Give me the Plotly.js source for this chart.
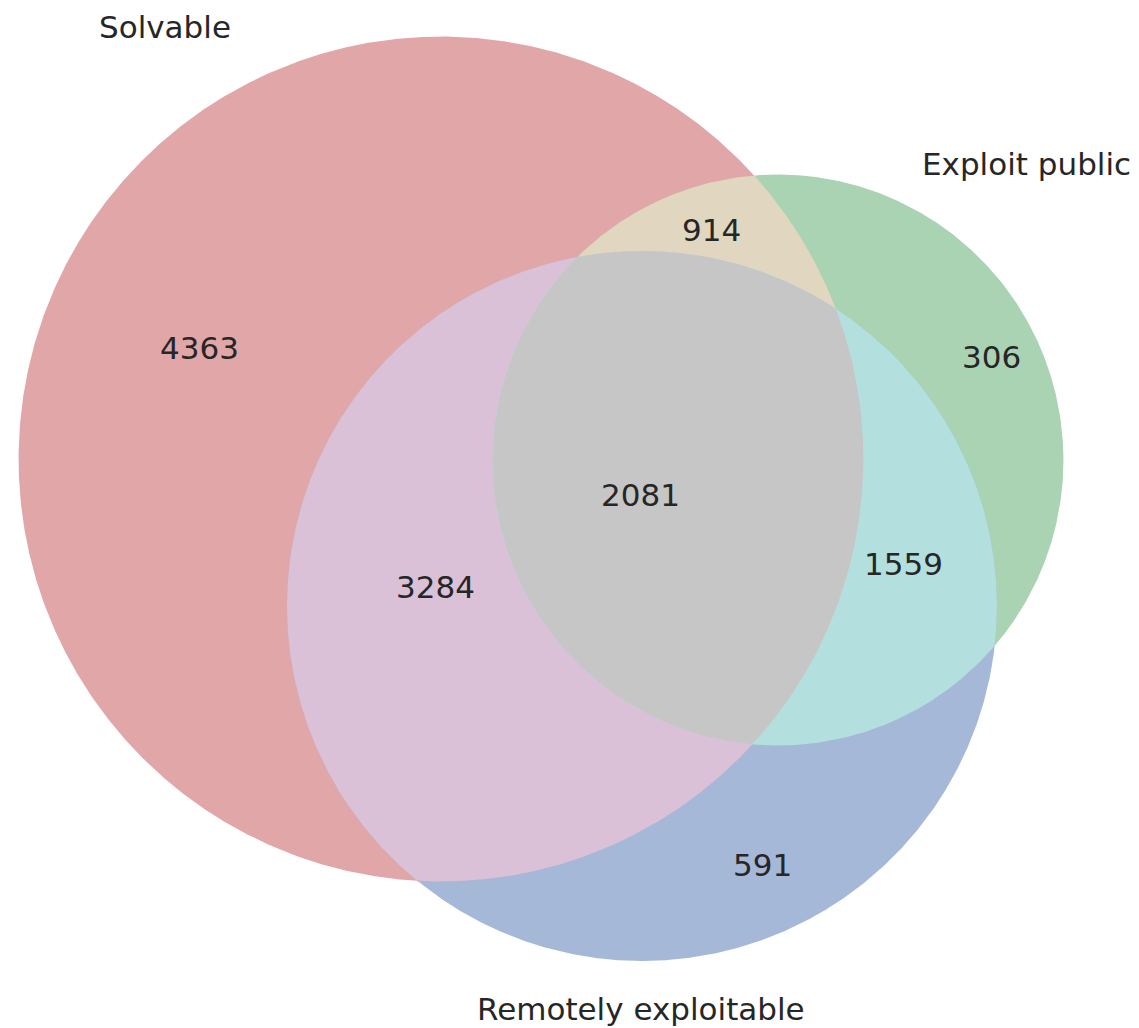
<!DOCTYPE html>
<html>
<head>
<meta charset="utf-8">
<script src="https://cdn.plot.ly/plotly-3.0.1.min.js"></script>
<style>html,body{margin:0;padding:0;background:#fff;}#chart{width:1139px;height:1028px;}</style>
</head>
<body>
<div id="chart"></div>
<script>
// ---- data ----
const setNames = ["Solvable", "Exploit public", "Remotely exploitable"];
// region keys: A=Solvable, B=Exploit public, C=Remotely exploitable
const regionKeys = ["100", "010", "110", "001", "101", "011", "111"];
const regionCounts = [4363, 306, 914, 591, 3284, 1559, 2081];

// ---- layout / style constants ----
const W = 1139, H = 1028;
const scale = 4.095; // px per sqrt(count)
const centers = [[441, 459], [778, 460], [642, 606]];
const baseColors = ["#e1a6a8", "#aad3b3", "#a5b8d7"];
const pairColors = {"110": "#e1d7c0", "101": "#dbc1d8", "011": "#b3e0de"};
const tripleColor = "#c6c6c6";
const setLabelPos = [[165, 27], [1026, 164], [641, 1009]];
const regionLabelPos = {
  "100": [199, 348], "010": [991, 357], "110": [711, 230],
  "001": [762, 865], "101": [435, 587], "011": [903, 564], "111": [640, 495]
};
const textColor = "#262626";
const fontFam = "DejaVu Sans, sans-serif";
const fontSize = 31;

// set totals from regions
const totals = [0, 0, 0];
regionKeys.forEach((k, i) => { for (let s = 0; s < 3; s++) if (k[s] === "1") totals[s] += regionCounts[i]; });
const radii = totals.map(t => scale * Math.sqrt(t));
const circles = centers.map((c, i) => ({x: c[0], y: c[1], r: radii[i]}));

const N = 3000;
function circlePts(c) {
  const pts = [];
  for (let i = 0; i < N; i++) {
    const a = 2 * Math.PI * i / N;
    pts.push([c.x + c.r * Math.cos(a), c.y + c.r * Math.sin(a)]);
  }
  return pts;
}
function inside(p, c) { return (p[0]-c.x)**2 + (p[1]-c.y)**2 <= c.r*c.r + 1e-6; }
function intersection(list) {
  let pts = [];
  list.forEach((c, i) => {
    const others = list.filter((_, j) => j !== i);
    circlePts(c).forEach(p => { if (others.every(o => inside(p, o))) pts.push(p); });
  });
  const mx = pts.reduce((s, p) => s + p[0], 0) / pts.length;
  const my = pts.reduce((s, p) => s + p[1], 0) / pts.length;
  pts.sort((a, b) => Math.atan2(a[1]-my, a[0]-mx) - Math.atan2(b[1]-my, b[0]-mx));
  return pts;
}
function polyTrace(pts, color) {
  return {
    type: "scatter", mode: "lines", fill: "toself", fillcolor: color,
    x: pts.map(p => p[0]).concat([pts[0][0]]), y: pts.map(p => p[1]).concat([pts[0][1]]),
    line: {width: 0, color: color}, hoverinfo: "skip", showlegend: false
  };
}

const traces = [];
circles.forEach((c, i) => traces.push(polyTrace(circlePts(c), baseColors[i])));
[["110", 0, 1], ["101", 0, 2], ["011", 1, 2]].forEach(([k, a, b]) => {
  traces.push(polyTrace(intersection([circles[a], circles[b]]), pairColors[k]));
});
traces.push(polyTrace(intersection(circles), tripleColor));

const annotations = [];
setNames.forEach((n, i) => annotations.push({
  x: setLabelPos[i][0], y: setLabelPos[i][1], text: n, showarrow: false,
  xanchor: "center", yanchor: "middle", font: {family: fontFam, size: fontSize, color: textColor}
}));
regionKeys.forEach((k, i) => annotations.push({
  x: regionLabelPos[k][0], y: regionLabelPos[k][1], text: String(regionCounts[i]), showarrow: false,
  xanchor: "center", yanchor: "middle", font: {family: fontFam, size: fontSize, color: textColor}
}));

const layout = {
  width: W, height: H, margin: {l: 0, r: 0, t: 0, b: 0},
  paper_bgcolor: "#ffffff", plot_bgcolor: "#ffffff",
  xaxis: {range: [0, W], visible: false, fixedrange: true},
  yaxis: {range: [H, 0], visible: false, fixedrange: true},
  annotations: annotations, showlegend: false
};
Plotly.newPlot("chart", traces, layout, {displayModeBar: false, staticPlot: true});
</script>
</body>
</html>
